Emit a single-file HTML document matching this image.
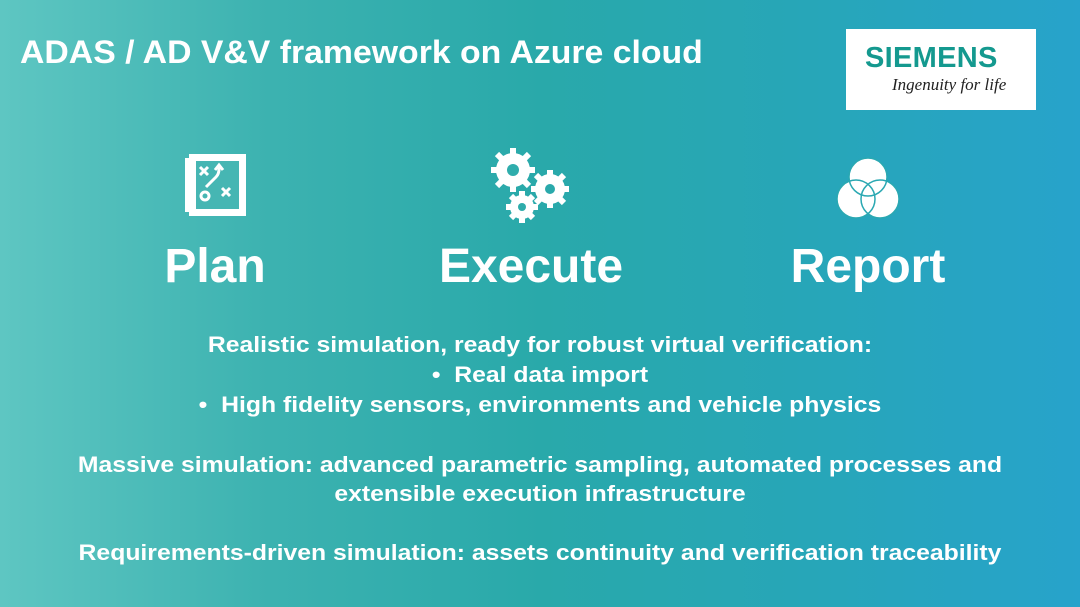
<!DOCTYPE html>
<html><head><meta charset="utf-8"><style>
html,body{margin:0;padding:0}
body{width:1080px;height:607px;overflow:hidden;position:relative;font-family:"Liberation Sans",Arial,sans-serif;font-weight:bold;color:#fff;
background:linear-gradient(90deg,#5ec6c2 0%,#3cb2b0 25%,#29a9aa 50%,#27a6b8 75%,#27a3cb 100%);}
.t{position:absolute;white-space:nowrap}
.c{position:absolute;left:0;width:1080px;text-align:center;font-size:22px;white-space:nowrap;transform:scaleX(1.125);transform-origin:540px 0}
.big{position:absolute;font-size:48px;text-align:center;width:300px;top:239px}
</style></head><body>
<div class="t" style="left:20px;top:34px;font-size:32px;transform:scaleX(1.056);transform-origin:0 0">ADAS / AD V&amp;V framework on Azure cloud</div>
<div style="position:absolute;left:846px;top:29px;width:190px;height:81px;background:#fff"></div>
<div class="t" style="left:865px;top:42px;font-size:29px;color:#14998f;letter-spacing:0.3px">SIEMENS</div>
<div class="t" style="left:892px;top:75px;font-size:17px;color:#222;font-weight:normal;font-style:italic;font-family:'Liberation Serif',serif">Ingenuity for life</div>

<svg style="position:absolute;left:0;top:0" width="1080" height="240">
 <g fill="#fff">
  <rect x="189" y="154" width="57" height="62"/>
  <rect x="185" y="158" width="6" height="54"/>
 </g>
 <rect x="196" y="161" width="43" height="48" fill="#46b6b3"/>
 <g stroke="#fff" stroke-width="3" fill="none">
  <path d="M200 167l8 8M208 167l-8 8M222 188l8 8M230 188l-8 8"/>
  <circle cx="205" cy="196" r="4"/>
  <path d="M206 187q6-6 10-10 3-3 3-8v-4"/>
  <path d="M215 170l4-5 4 5"/>
 </g>
 <g fill="#fff">
  <circle cx="513" cy="170" r="17"/>
  <circle cx="550" cy="189" r="15"/>
  <circle cx="522" cy="207" r="12"/>
  <g stroke="#fff" stroke-width="6">
   <path d="M513 148v44M491 170h44M497 154l32 32M529 154l-32 32"/>
   <path d="M550 170v38M531 189h38M536 175l28 28M564 175l-28 28"/>
   <path d="M522 191v32M506 207h32M511 196l22 22M533 196l-22 22"/>
  </g>
  <circle cx="868" cy="177" r="19"/>
  <circle cx="856" cy="199" r="19"/>
  <circle cx="880" cy="199" r="19"/>
 </g>
 <circle cx="513" cy="170" r="6" fill="#2fadac"/>
 <circle cx="550" cy="189" r="5" fill="#2aa9ab"/>
 <circle cx="522" cy="207" r="4" fill="#2eacab"/>
 <g stroke="#2aa8b2" stroke-width="1.5" fill="none">
  <circle cx="868" cy="177" r="19"/><circle cx="856" cy="199" r="19"/><circle cx="880" cy="199" r="19"/>
 </g>
</svg>

<div class="big" style="left:65px">Plan</div>
<div class="big" style="left:381px">Execute</div>
<div class="big" style="left:718px">Report</div>

<div class="c" style="top:332px">Realistic simulation, ready for robust virtual verification:</div>
<div class="c" style="top:362px">•&nbsp; Real data import</div>
<div class="c" style="top:392px">•&nbsp; High fidelity sensors, environments and vehicle physics</div>
<div class="c" style="top:452px">Massive simulation: advanced parametric sampling, automated processes and</div>
<div class="c" style="top:481px">extensible execution infrastructure</div>
<div class="c" style="top:540px">Requirements-driven simulation: assets continuity and verification traceability</div>
</body></html>
